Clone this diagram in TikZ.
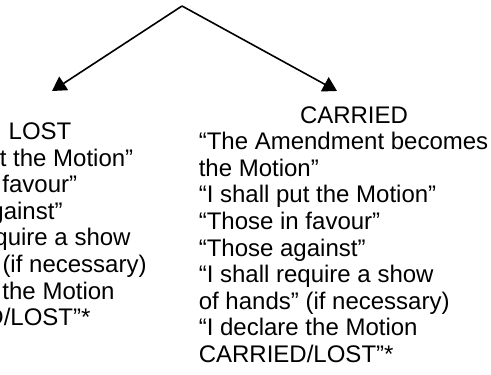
\documentclass[tikz,border=0pt]{standalone}
\usepackage{fontspec}
\setmainfont{Liberation Sans}
\usetikzlibrary{positioning, arrows.meta}
\tikzset{vote/.style={anchor=base west},
         head/.style={anchor=base}}

\begin{document}
\begin{tikzpicture}[x=0.5pt, y=-0.5pt, node distance=13.3pt, thick, every node/.style={inner sep=0pt, font=\fontsize{12}{14}\selectfont}]
        \useasboundingbox (0,0) rectangle (491,374);
        \clip (0,0) rectangle (491,374);
        \coordinate (split) at (182,6);
        \coordinate (lostend) at (52,91);
        \coordinate (carriedend) at (337,91);
        \draw[-{Triangle[length=7pt, width=8pt]}] (split) -- (lostend);
        \draw[-{Triangle[length=7pt, width=8pt]}] (split) -- (carriedend);
        % lost branch
        \node[head] (lost) at (40,139) {LOST};
        \node[vote] (l1) at (-105,166) {“I shall put the Motion”};
        \node[below=of l1.base west, vote] (l2) {“Those in favour”};
        \node[below=of l2.base west, vote] (l3) {“Those against”};
        \node[below=of l3.base west, vote] (l4) {“I shall require a show};
        \node[below=of l4.base west, vote] (l5) {of hands” (if necessary)};
        \node[below=of l5.base west, vote] (l6) {“I declare the Motion};
        \node[below=of l6.base west, vote] (l7) {CARRIED/LOST”*};
        % carried branch
        \node[head] (carried) at (354,123) {CARRIED};
        \node[vote] (c1) at (198,149.6) {“The Amendment becomes};
        \node[below=of c1.base west, vote] (c2) {the Motion”};
        \node[below=of c2.base west, vote] (c3) {“I shall put the Motion”};
        \node[below=of c3.base west, vote] (c4) {“Those in favour”};
        \node[below=of c4.base west, vote] (c5) {“Those against”};
        \node[below=of c5.base west, vote] (c6) {“I shall require a show};
        \node[below=of c6.base west, vote] (c7) {of hands” (if necessary)};
        \node[below=of c7.base west, vote] (c8) {“I declare the Motion};
        \node[below=of c8.base west, vote] (c9) {CARRIED/LOST”*};
\end{tikzpicture}
\end{document}
